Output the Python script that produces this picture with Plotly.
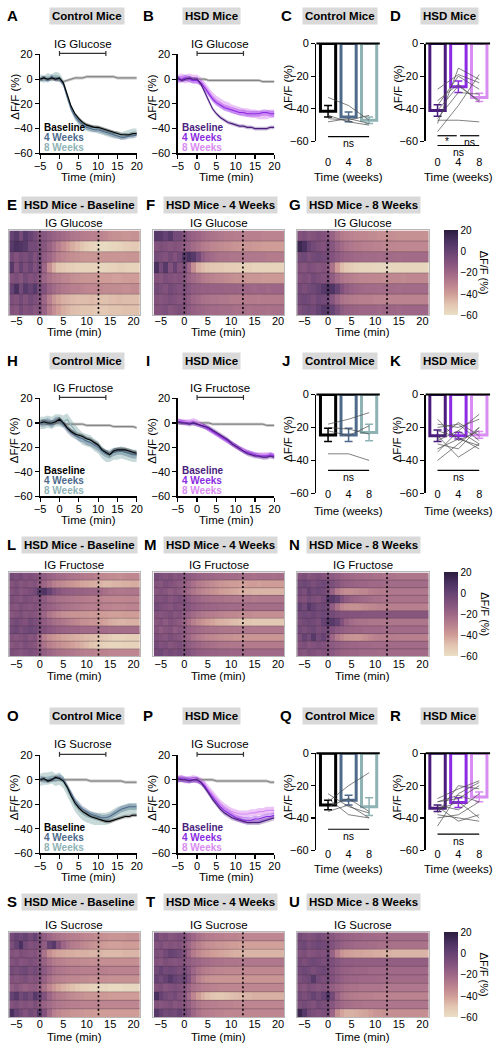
import plotly.graph_objects as go

W, H = 499, 1050
FONT = "Liberation Sans, Arial, Helvetica, sans-serif"

# ------------------------------------------------------------------ data
T_LINE = list(range(-5, 21))          # minutes (line plots)
T_HEAT = list(range(-6, 22))          # minutes (heat-map columns)
IG_PERIOD = [0, 12]                   # gavage bracket
HEAT_MARKS = [0, 12.5]                # dotted lines on heat maps
WEEK_TICKS = ["0", "4", "8"]
GROUP_NAMES = ["Baseline", "4 Weeks", "8 Weeks"]
CTRL_COLORS = ["#000000", "#4e6a8b", "#8fb3b4"]
HSD_COLORS = ["#4a1c7e", "#8b2be3", "#d98cf2"]
SALINE_COLOR = "#7d7d7d"
LEGEND_Y = [-39, -47, -55]
HEAT_SCALE = [[0.0, "#ebdfc6"], [0.125, "#e2c5b1"], [0.25, "#cf9c97"], [0.375, "#b8808e"],
              [0.5, "#9d6686"], [0.625, "#82527d"], [0.75, "#664373"], [0.875, "#4a3160"],
              [1.0, "#2b1c3e"]]

# --- glucose line traces
glu_ctrl_base = [0, 1, 0, 1, 0, 1, -3, -13, -22, -28, -32, -35, -37, -38, -39, -39, -40, -41, -42, -43, -44, -45, -45, -45, -44, -44]
glu_ctrl_4w = [0, 1, -1, 2, 0, 0, -4, -15, -24, -30, -34, -37, -39, -40, -41, -41, -42, -43, -44, -45, -46, -47, -47, -46, -46, -45]
glu_ctrl_8w = [1, 0, 2, 1, 3, 2, -3, -13, -23, -30, -34, -37, -39, -40, -40, -41, -42, -43, -44, -45, -45, -46, -45, -44, -43, -43]
glu_ctrl_sal = [0, 0, 0, 0, 0, -1, -2, -1, 0, 1, 1, 1, 2, 2, 2, 2, 2, 2, 2, 2, 1, 1, 1, 1, 1, 1]
glu_ctrl_sem = [1.5, 2.0, 3.0]
glu_hsd_base = [1, -1, 0, 1, 0, 0, -4, -11, -18, -24, -28, -31, -33, -35, -36, -37, -38, -38, -39, -39, -40, -40, -40, -40, -39, -39]
glu_hsd_4w = [0, 0, 1, 0, -1, -1, -3, -7, -12, -16, -19, -21, -23, -24, -25, -26, -27, -27, -28, -28, -28, -28, -27, -27, -28, -28]
glu_hsd_8w = [0, 1, 0, 1, 0, 0, -2, -6, -10, -14, -17, -19, -21, -22, -24, -25, -26, -27, -27, -28, -28, -29, -29, -29, -28, -28]
glu_hsd_sal = [0, 0, 0, 0, 0, 0, 0, 0, -1, -1, -1, -1, -1, -1, -1, -1, -1, -1, -1, -1, -1, -1, -2, -2, -2, -2]
glu_hsd_sem = [1.5, 2.5, 3.5]
# --- fructose line traces
fru_ctrl_base = [0, 1, 0, 0, 1, 3, 0, -4, -7, -9, -10, -11, -13, -14, -16, -18, -22, -24, -26, -23, -22, -22, -22, -23, -24, -25]
fru_ctrl_4w = [0, 0, 1, -1, 2, 2, -1, -5, -8, -10, -12, -13, -15, -16, -18, -20, -23, -25, -26, -24, -23, -23, -24, -25, -26, -26]
fru_ctrl_8w = [0, 0, 1, 0, 2, 2, 1, 3, -2, -6, -10, -13, -14, -15, -18, -20, -24, -27, -27, -25, -25, -24, -25, -26, -27, -27]
fru_ctrl_sal = [0, 0, 0, 0, 0, 0, -1, -1, -1, -1, -1, -1, -2, -2, -2, -2, -2, -2, -2, -3, -3, -3, -3, -3, -3, -4]
fru_ctrl_sem = [2.0, 3.0, 5.0]
fru_hsd_base = [1, 0, 0, -1, 0, -1, -2, -3, -4, -6, -8, -10, -12, -14, -17, -19, -21, -23, -25, -26, -27, -27, -28, -28, -27, -28]
fru_hsd_4w = [1, 1, 0, 0, 0, -1, -2, -3, -5, -7, -9, -11, -13, -15, -17, -19, -21, -23, -24, -25, -26, -27, -27, -27, -26, -27]
fru_hsd_8w = [2, 1, 1, 1, 2, 1, -1, -3, -5, -7, -9, -11, -13, -15, -17, -19, -21, -22, -24, -25, -26, -26, -26, -26, -26, -27]
fru_hsd_sal = [0, 0, 0, 0, 0, 0, 0, 0, 0, -1, -1, -1, -1, -1, -1, -1, -1, -1, -1, -1, -1, -1, -1, -2, -2, -2]
fru_hsd_sem = [2.0, 2.0, 2.0]
# --- sucrose line traces
suc_ctrl_base = [0, 1, -1, 0, 2, 1, -1, -6, -13, -19, -23, -26, -28, -30, -31, -32, -33, -34, -34, -33, -32, -31, -30, -30, -29, -29]
suc_ctrl_4w = [1, 0, 0, 1, 1, 2, 0, -5, -11, -17, -21, -24, -26, -28, -29, -30, -31, -31, -30, -28, -26, -24, -23, -22, -22, -22]
suc_ctrl_8w = [0, 1, 1, 2, 0, 1, -2, -8, -15, -21, -25, -28, -30, -31, -32, -32, -32, -32, -31, -29, -27, -26, -25, -24, -24, -24]
suc_ctrl_sal = [0, 0, 0, 0, 0, 0, 0, 0, 0, 0, 0, 0, 0, -1, -1, -1, -1, -1, -1, -1, -1, -1, -2, -2, -2, -2]
suc_ctrl_sem = [1.5, 2.5, 5.0]
suc_hsd_base = [1, 0, 0, -1, 0, 0, -2, -6, -11, -16, -20, -24, -27, -29, -31, -32, -33, -34, -35, -35, -35, -35, -34, -33, -32, -31]
suc_hsd_4w = [0, 1, 0, 0, 0, 0, -2, -5, -10, -14, -18, -22, -25, -27, -29, -31, -32, -33, -33, -33, -32, -32, -31, -30, -30, -29]
suc_hsd_8w = [1, 1, 0, 0, 1, 0, -1, -4, -8, -12, -16, -19, -22, -24, -26, -27, -28, -28, -28, -27, -27, -26, -26, -25, -25, -25]
suc_hsd_sal = [0, 0, 0, 0, 0, 0, 0, 0, 0, 0, -1, -1, -1, -1, -1, -1, -1, -1, -1, -1, -1, -1, -1, -1, -2, -2]
suc_hsd_sem = [2.0, 2.5, 3.0]
SALINE_SEM = 1.2

# --- bar panels (means, error, individual mice, significance)
glu_ctrl_bar = [-41.5, -45, -47]
glu_ctrl_err = [3.5, 3, 2]
glu_ctrl_mice = [[-33, -38, -47], [-44, -48, -50], [-46, -47, -44], [-48, -46, -49]]
glu_ctrl_sig = [(0, 2, -57, "ns")]
glu_hsd_bar = [-41, -26.5, -33]
glu_hsd_err = [3.5, 3.5, 2.5]
glu_hsd_mice = [[-49, -15, -22], [-28, -19, -24], [-38, -20, -28], [-54, -38, -19],
                [-46, -30, -31], [-35, -25, -36], [-47, -47, -48], [-41, -26, -35]]
glu_hsd_sig = [(0, 0.92, -56.5, "*"), (1.08, 2, -56.5, "ns"), (0, 2, -62.5, "ns")]
fru_ctrl_bar = [-24.5, -24.5, -23]
fru_ctrl_err = [4, 4, 5]
fru_ctrl_mice = [[-18, -15, -11], [-22, -25, -19], [-20, -21, -24], [-36, -36, -40]]
fru_ctrl_sig = [(0, 2, -46, "ns")]
fru_hsd_bar = [-25, -25, -24.5]
fru_hsd_err = [3.5, 2, 2]
fru_hsd_mice = [[-15, -28, -22], [-18, -20, -15], [-20, -18, -28], [-25, -38, -30], [-28, -22, -12],
                [-30, -33, -20], [-33, -27, -31], [-35, -22, -30], [-40, -30, -20], [-22, -26, -33],
                [-27, -17, -25]]
fru_hsd_sig = [(0, 2, -46, "ns")]
suc_ctrl_bar = [-32, -29, -33]
suc_ctrl_err = [3, 3, 5.5]
suc_ctrl_mice = [[-30, -20, -12], [-36, -32, -40], [-28, -38, -40], [-33, -28, -36], [-25, -33, -37]]
suc_ctrl_sig = [(0, 2, -47, "ns")]
suc_hsd_bar = [-34, -30.5, -27]
suc_hsd_err = [2, 3, 3]
suc_hsd_mice = [[-45, -25, -18], [-38, -40, -42], [-30, -28, -20], [-32, -35, -25], [-28, -22, -17],
                [-35, -30, -40], [-40, -38, -30], [-33, -42, -38], [-30, -26, -30], [-37, -20, -22]]
suc_hsd_sig = [(0, 2, -50, "ns")]

# --- heat maps (rows = mice, columns = T_HEAT)
glu_heat_base = [
    [0, 5, -5, 5, 0, -5, -10, -12, -15, -18, -20, -22, -24, -26, -27, -28, -29, -30, -30, -31, -33, -35, -36, -36, -37, -37, -36, -36],
    [5, 10, 8, 5, -5, -5, -8, -12, -18, -24, -30, -35, -40, -44, -47, -50, -53, -55, -57, -58, -58, -57, -56, -55, -54, -53, -52, -52],
    [-5, -10, -5, -8, -3, -10, -5, -15, -20, -25, -30, -32, -34, -35, -36, -37, -38, -38, -38, -38, -37, -37, -38, -38, -38, -37, -37, -37],
    [5, -10, 0, -8, -2, -10, -5, -20, -35, -45, -50, -52, -53, -54, -55, -55, -55, -55, -55, -56, -56, -55, -55, -54, -54, -55, -55, -55],
    [-10, -8, -12, -5, -10, -8, -12, -20, -25, -28, -30, -32, -33, -35, -36, -37, -38, -38, -38, -40, -40, -40, -41, -41, -40, -40, -40, -40],
    [0, 10, -5, 5, 0, 5, -5, -10, -18, -22, -25, -27, -28, -30, -30, -31, -32, -33, -33, -33, -34, -34, -34, -34, -35, -35, -34, -34],
    [-8, -10, -5, -10, -5, -8, -10, -20, -30, -38, -42, -45, -46, -47, -48, -48, -48, -47, -48, -49, -49, -48, -48, -47, -48, -48, -48, -48],
    [-10, -12, -5, -10, -8, -12, -10, -18, -28, -35, -40, -44, -46, -48, -49, -50, -50, -50, -51, -51, -51, -50, -50, -50, -49, -49, -49, -49],
]
glu_heat_4w = [
    [5, 5, 0, 5, -5, -5, -10, -15, -18, -20, -22, -24, -25, -26, -27, -28, -28, -29, -29, -30, -30, -30, -30, -31, -31, -31, -31, -31],
    [-10, -8, -10, -12, -10, -12, -15, -18, -22, -25, -28, -30, -32, -33, -34, -35, -36, -37, -38, -38, -38, -39, -39, -40, -40, -40, -40, -40],
    [-5, -8, -10, -5, -10, -5, 5, 10, 5, -5, -15, -20, -22, -24, -25, -25, -26, -26, -26, -27, -27, -27, -27, -27, -28, -28, -28, -28],
    [10, -5, 5, -10, 0, -10, -8, -20, -35, -45, -48, -50, -51, -52, -52, -53, -53, -53, -54, -54, -54, -55, -55, -55, -55, -55, -55, -55],
    [-10, -12, -8, -10, -12, -10, -12, -18, -22, -25, -28, -30, -31, -32, -33, -34, -35, -36, -36, -37, -38, -38, -38, -39, -39, -39, -39, -39],
    [-5, -8, -10, -5, -8, -10, -8, -12, -15, -16, -17, -17, -18, -18, -18, -19, -19, -19, -20, -20, -20, -21, -20, -20, -21, -20, -20, -20],
    [-10, -12, -10, -8, -10, -12, -10, -15, -20, -22, -24, -25, -26, -26, -27, -27, -28, -28, -28, -29, -28, -28, -29, -28, -28, -28, -28, -28],
    [-10, -10, -8, -12, -10, -8, -10, -14, -17, -19, -20, -21, -22, -22, -23, -23, -23, -24, -24, -24, -25, -24, -24, -24, -25, -24, -24, -24],
]
glu_heat_8w = [
    [-10, -8, -12, -10, -8, -10, -12, -18, -24, -28, -30, -31, -32, -33, -33, -34, -34, -35, -35, -35, -35, -36, -36, -36, -36, -36, -36, -36],
    [15, 10, 0, -5, -8, -10, -5, -12, -18, -22, -25, -27, -28, -29, -30, -30, -31, -31, -32, -32, -32, -33, -33, -33, -33, -33, -33, -33],
    [-5, -3, -8, -5, -3, -5, -5, -10, -14, -17, -19, -20, -21, -21, -22, -22, -22, -23, -22, -22, -22, -23, -22, -22, -22, -22, -22, -22],
    [-10, -12, -8, -10, -12, -10, -12, -25, -40, -48, -52, -54, -55, -56, -56, -56, -57, -57, -57, -57, -56, -56, -56, -56, -56, -56, -56, -56],
    [-10, -8, -10, -5, -8, -10, -8, -15, -22, -26, -28, -30, -31, -32, -32, -33, -33, -33, -34, -33, -33, -33, -34, -33, -33, -33, -33, -33],
    [-5, -8, -5, -3, 0, 5, 10, 8, 0, -10, -15, -18, -20, -21, -22, -22, -22, -23, -22, -22, -22, -23, -22, -22, -22, -22, -22, -22],
    [-5, -3, -5, -8, -3, -5, -3, -12, -20, -25, -27, -28, -29, -30, -30, -30, -31, -31, -31, -31, -31, -31, -31, -31, -31, -31, -31, -31],
    [-8, -5, -3, -5, 0, 5, 5, 0, -8, -14, -17, -18, -19, -20, -20, -20, -20, -21, -20, -20, -20, -21, -20, -20, -20, -20, -20, -20],
]
fru_heat_base = [
    [-5, -8, -5, -10, -8, -10, -12, -15, -18, -20, -22, -22, -24, -25, -26, -27, -28, -28, -30, -32, -33, -34, -34, -35, -34, -33, -33, -33],
    [-10, -8, -12, -10, -12, -10, -15, -20, -25, -30, -32, -34, -36, -38, -40, -42, -43, -44, -45, -46, -47, -47, -46, -46, -45, -45, -44, -44],
    [-10, -8, -12, -10, -8, -5, 5, 8, 0, -8, -12, -15, -16, -17, -18, -18, -19, -20, -20, -22, -24, -26, -26, -27, -27, -26, -26, -26],
    [-8, -10, -12, -8, -10, -12, -10, -15, -20, -22, -24, -25, -26, -27, -28, -28, -29, -30, -30, -31, -32, -32, -33, -33, -32, -32, -32, -32],
    [-10, -12, -8, -10, -12, -10, -12, -15, -18, -20, -22, -24, -25, -26, -27, -28, -29, -30, -30, -30, -31, -31, -32, -32, -32, -31, -31, -31],
    [-12, -10, -8, -12, -10, -12, -14, -20, -26, -30, -33, -35, -36, -37, -37, -38, -38, -39, -39, -40, -40, -41, -41, -41, -40, -40, -40, -40],
    [-8, -5, -8, -10, -5, -8, -10, -15, -20, -23, -25, -27, -29, -31, -33, -35, -36, -37, -38, -40, -42, -44, -45, -46, -46, -45, -45, -45],
    [-5, -3, -8, -5, -3, -5, -8, -10, -13, -15, -17, -18, -19, -20, -20, -21, -21, -22, -22, -22, -22, -23, -23, -23, -23, -23, -23, -23],
    [-10, -12, -10, -8, -12, -10, -20, -30, -35, -38, -40, -42, -43, -44, -45, -46, -47, -48, -49, -50, -52, -54, -55, -55, -55, -54, -54, -54],
    [-12, -10, -12, -8, -10, -12, -18, -25, -30, -33, -35, -37, -39, -41, -43, -45, -47, -50, -52, -54, -55, -56, -56, -56, -55, -55, -55, -55],
    [-8, -10, -12, -10, -8, -10, -12, -16, -20, -22, -24, -25, -26, -27, -28, -29, -30, -30, -31, -31, -31, -32, -32, -32, -32, -32, -32, -32],
]
fru_heat_4w = [
    [-5, -8, -10, -8, -12, -10, -12, -14, -16, -18, -19, -20, -20, -21, -21, -22, -22, -22, -23, -23, -23, -24, -23, -23, -23, -24, -23, -23],
    [-10, -12, -8, -10, -12, -14, -16, -20, -24, -28, -30, -32, -34, -36, -38, -39, -40, -40, -41, -41, -40, -40, -41, -40, -40, -40, -40, -40],
    [-12, -10, -12, -15, -12, -14, -18, -22, -26, -30, -32, -34, -36, -38, -40, -41, -42, -43, -44, -45, -45, -46, -46, -46, -46, -46, -46, -46],
    [-8, -10, -8, -12, -10, -8, -10, -14, -18, -20, -22, -23, -24, -25, -25, -26, -26, -27, -27, -27, -27, -28, -27, -27, -27, -27, -27, -27],
    [-5, -8, -10, -12, -8, -10, -10, -12, -15, -17, -18, -19, -20, -20, -21, -21, -22, -22, -22, -23, -23, -23, -23, -23, -23, -23, -23, -23],
    [-10, -12, -10, -8, -12, -10, -14, -18, -22, -25, -27, -28, -29, -30, -31, -32, -33, -33, -34, -34, -34, -35, -35, -35, -35, -35, -35, -35],
    [-12, -10, -14, -10, -12, -14, -18, -24, -30, -34, -37, -40, -42, -44, -45, -46, -47, -48, -49, -50, -50, -51, -51, -51, -51, -51, -51, -51],
    [-10, -15, -12, -10, -15, -12, -14, -18, -20, -22, -23, -24, -25, -25, -26, -26, -26, -27, -27, -27, -27, -27, -27, -27, -27, -27, -27, -27],
    [-8, -10, -12, -8, -10, -12, -16, -20, -25, -28, -30, -32, -33, -34, -35, -36, -36, -37, -37, -38, -38, -38, -38, -38, -38, -38, -38, -38],
    [-5, -10, -8, -12, -10, -8, -12, -15, -18, -20, -22, -23, -24, -25, -26, -26, -27, -27, -27, -28, -28, -28, -28, -28, -28, -28, -28, -28],
    [-5, -3, -8, -5, -8, -5, -8, -10, -13, -15, -16, -17, -18, -18, -19, -19, -20, -20, -20, -21, -21, -21, -21, -21, -21, -21, -21, -21],
]
fru_heat_8w = [
    [-10, -8, -12, -10, -8, -10, -12, -14, -16, -18, -20, -21, -22, -22, -23, -23, -24, -24, -25, -25, -25, -26, -26, -26, -26, -26, -26, -26],
    [-5, -3, -5, -8, -5, -3, -5, -8, -12, -15, -17, -18, -19, -20, -20, -21, -21, -21, -22, -22, -22, -22, -22, -22, -22, -22, -22, -22],
    [-5, -8, 0, -5, -3, -5, -8, -18, -28, -33, -35, -35, -34, -33, -32, -30, -29, -28, -28, -27, -27, -27, -27, -27, -27, -27, -27, -27],
    [-8, -10, -5, -8, -10, -5, 5, 5, 0, -10, -15, -18, -20, -21, -22, -23, -24, -24, -25, -25, -25, -25, -25, -25, -25, -25, -25, -25],
    [0, -5, 5, 0, -5, -3, -5, -15, -25, -32, -35, -36, -36, -35, -34, -33, -32, -31, -31, -30, -30, -30, -30, -30, -30, -30, -30, -30],
    [-5, -3, -5, -2, -5, -3, -2, -5, -8, -10, -10, -11, -11, -11, -12, -12, -12, -12, -12, -12, -12, -12, -12, -12, -12, -12, -12, -12],
    [-8, -5, -3, -5, -8, 0, 5, 5, 0, -10, -18, -22, -24, -25, -25, -26, -26, -26, -26, -26, -26, -26, -26, -26, -26, -26, -26, -26],
    [-5, -8, -5, -3, -8, -5, -5, -10, -14, -16, -18, -19, -20, -20, -21, -21, -21, -21, -22, -22, -22, -22, -22, -22, -22, -22, -22, -22],
    [-8, 0, -5, 5, -5, 0, -8, -20, -28, -33, -36, -37, -38, -37, -35, -33, -31, -30, -30, -29, -29, -30, -30, -30, -30, -30, -30, -30],
    [-10, -8, -12, -10, -8, -10, -12, -14, -16, -18, -19, -20, -20, -21, -21, -21, -22, -22, -22, -22, -22, -22, -22, -22, -22, -22, -22, -22],
    [-10, -12, -8, -10, -12, -10, -10, -13, -16, -18, -19, -20, -20, -21, -21, -21, -21, -22, -22, -22, -22, -22, -22, -22, -22, -22, -22, -22],
]
suc_heat_base = [
    [-5, 0, -3, 0, -5, 0, -8, -15, -20, -23, -25, -27, -28, -29, -30, -31, -32, -33, -34, -35, -36, -37, -37, -37, -37, -36, -36, -36],
    [-8, 0, 10, -5, -10, -8, -10, -15, 0, 5, -10, -20, -25, -28, -30, -32, -34, -36, -38, -39, -40, -41, -41, -41, -40, -40, -40, -40],
    [-10, -12, -8, -10, -12, -10, -14, -25, -35, -40, -42, -43, -44, -44, -45, -45, -45, -46, -46, -46, -47, -47, -47, -47, -46, -46, -46, -46],
    [-10, -8, -12, -10, -8, -10, -12, -18, -24, -28, -30, -31, -32, -33, -33, -34, -34, -35, -35, -35, -35, -35, -35, -35, -35, -35, -35, -35],
    [-5, -8, -5, -3, -8, -5, -8, -14, -20, -24, -26, -27, -28, -29, -29, -30, -30, -30, -30, -30, -30, -31, -31, -31, -31, -31, -31, -31],
    [-10, -12, -10, -8, -12, -10, -12, -18, -24, -28, -30, -31, -32, -33, -33, -34, -34, -35, -35, -35, -35, -36, -36, -36, -36, -36, -36, -36],
    [-15, -12, -15, -18, -15, -14, -18, -25, -32, -38, -42, -45, -47, -49, -51, -53, -54, -55, -56, -57, -57, -58, -58, -58, -57, -57, -57, -57],
    [0, 5, -5, 0, -5, 5, 0, -10, -20, -25, -28, -30, -32, -34, -35, -36, -37, -38, -38, -39, -39, -40, -40, -40, -40, -40, -40, -40],
    [-10, -8, -12, -10, -12, -8, -12, -18, -22, -25, -27, -28, -29, -30, -30, -31, -31, -31, -31, -32, -32, -32, -32, -32, -32, -32, -32, -32],
    [10, 0, -5, -10, -5, -8, 5, -10, -22, -30, -33, -35, -36, -37, -38, -38, -39, -39, -40, -40, -40, -40, -40, -40, -40, -40, -40, -40],
]
suc_heat_4w = [
    [-5, -10, -8, -12, -10, -8, -10, -15, -20, -24, -26, -28, -29, -30, -30, -31, -31, -31, -32, -32, -32, -32, -32, -32, -32, -32, -32, -32],
    [-10, -8, -12, -10, -12, -10, -14, -20, -26, -30, -33, -35, -36, -37, -38, -39, -40, -40, -41, -41, -41, -41, -41, -41, -41, -41, -41, -41],
    [-8, -10, -5, 0, -2, -5, -10, -20, -28, -33, -36, -38, -40, -41, -42, -43, -44, -45, -45, -46, -46, -46, -46, -46, -46, -46, -46, -46],
    [-10, -12, -8, -10, -12, -10, -12, -15, -18, -20, -22, -23, -24, -25, -25, -26, -26, -26, -27, -27, -27, -27, -27, -27, -27, -27, -27, -27],
    [-5, 0, -5, -3, -5, -8, -5, -12, -20, -25, -28, -30, -31, -32, -32, -33, -33, -33, -33, -33, -33, -33, -33, -33, -33, -33, -33, -33],
    [0, -5, 0, 5, 0, -3, 0, -10, -22, -30, -34, -36, -37, -38, -38, -38, -38, -38, -38, -38, -38, -38, -38, -38, -38, -38, -38, -38],
    [-10, -8, -12, -10, -8, -10, -12, -18, -24, -27, -29, -30, -31, -31, -32, -32, -32, -32, -32, -32, -32, -32, -32, -32, -32, -32, -32, -32],
    [10, 0, -5, -8, -5, -10, -12, -22, -32, -40, -45, -48, -50, -51, -51, -50, -49, -48, -47, -46, -46, -45, -45, -45, -45, -45, -45, -45],
    [-10, -12, -10, -8, -12, -10, -12, -16, -22, -26, -28, -29, -30, -30, -31, -31, -31, -32, -32, -32, -32, -32, -32, -32, -32, -32, -32, -32],
    [5, 0, -5, -3, -5, 0, -5, -12, -20, -25, -28, -29, -30, -31, -31, -32, -32, -32, -32, -32, -32, -32, -32, -32, -32, -32, -32, -32],
]
suc_heat_8w = [
    [-5, -8, -10, -8, -5, -8, -10, -12, -15, -17, -18, -19, -20, -20, -21, -21, -21, -22, -22, -22, -22, -22, -22, -22, -22, -22, -22, -22],
    [-5, -3, -8, -5, -3, -5, -5, -10, -14, -17, -19, -20, -21, -22, -22, -23, -23, -24, -24, -24, -25, -25, -25, -25, -25, -25, -25, -25],
    [-10, -8, -12, -10, -8, -10, -5, -18, -30, -37, -40, -41, -42, -42, -43, -43, -44, -44, -45, -45, -46, -46, -46, -46, -46, -46, -46, -46],
    [-5, -8, -5, -3, -5, -8, -5, -8, -12, -14, -15, -15, -16, -16, -16, -16, -16, -16, -16, -16, -16, -16, -16, -16, -16, -16, -16, -16],
    [-5, -3, -5, -8, -5, -3, -5, -10, -14, -17, -18, -19, -20, -20, -20, -21, -21, -21, -21, -21, -21, -21, -21, -21, -21, -21, -21, -21],
    [-8, -5, -3, 5, -5, -8, -5, -10, -14, -17, -19, -20, -20, -21, -21, -21, -21, -22, -22, -22, -22, -22, -22, -22, -22, -22, -22, -22],
    [-10, -12, -8, -10, -12, -10, -12, -16, -20, -22, -24, -25, -25, -26, -26, -26, -26, -26, -27, -27, -27, -27, -27, -27, -27, -27, -27, -27],
    [-5, -8, -5, 0, -5, 0, 8, -5, -18, -24, -27, -28, -29, -30, -30, -30, -31, -31, -31, -31, -31, -31, -31, -31, -31, -31, -31, -31],
    [-8, -5, -8, -10, -5, -8, -8, -12, -18, -21, -23, -24, -25, -25, -26, -26, -26, -26, -26, -26, -26, -26, -26, -26, -26, -26, -26, -26],
    [15, 5, -5, -8, -10, -8, -5, -20, -35, -42, -45, -45, -44, -43, -42, -40, -38, -37, -36, -35, -35, -35, -35, -35, -35, -35, -35, -35],
]

for _hm in (glu_heat_base, glu_heat_4w, glu_heat_8w, fru_heat_base, fru_heat_4w, fru_heat_8w,
            suc_heat_base, suc_heat_4w, suc_heat_8w):
    for _r in _hm:
        assert len(_r) == len(T_HEAT), len(_r)

# ------------------------------------------------------------------ helpers
fig = go.Figure()
annotations, shapes = [], []
_axn = [0]


def PX(p):
    return p / W


def PY(p):
    return 1 - p / H


class Box:
    def __init__(self, x0, x1, y0, y1, xr, yr):
        self.x0, self.x1, self.y0, self.y1, self.xr, self.yr = x0, x1, y0, y1, xr, yr

    def fx(self, v):
        return PX(self.x0 + (v - self.xr[0]) / (self.xr[1] - self.xr[0]) * (self.x1 - self.x0))

    def fy(self, v):
        return PY(self.y1 - (v - self.yr[0]) / (self.yr[1] - self.yr[0]) * (self.y1 - self.y0))

    def xdom(self):
        return [PX(self.x0), PX(self.x1)]

    def ydom(self):
        return [PY(self.y1), PY(self.y0)]


def new_axes():
    _axn[0] += 1
    s = "" if _axn[0] == 1 else str(_axn[0])
    return "x" + s, "y" + s, "xaxis" + s, "yaxis" + s


def ann(x, y, text, size=11, color="black", xanchor="center", yanchor="middle", angle=0, **kw):
    d = dict(x=x, y=y, xref="paper", yref="paper", text=text, showarrow=False,
             font=dict(size=size, color=color, family=FONT), xanchor=xanchor,
             yanchor=yanchor, textangle=angle, borderpad=0)
    d.update(kw)
    annotations.append(d)


def seg(x0, y0, x1, y1, color="black", width=1.2):
    shapes.append(dict(type="line", xref="paper", yref="paper", x0=x0, y0=y0, x1=x1, y1=y1,
                       line=dict(color=color, width=width)))


def rgba(hexc, a):
    h = hexc.lstrip("#")
    return "rgba(%d,%d,%d,%.2f)" % (int(h[0:2], 16), int(h[2:4], 16), int(h[4:6], 16), a)


TICKFONT = dict(size=11, family=FONT, color="black")
AX = dict(showline=True, linecolor="black", linewidth=1.4, ticks="outside", ticklen=4,
          tickwidth=1.2, tickcolor="black", showgrid=False, zeroline=False,
          tickfont=TICKFONT, fixedrange=True)


def line_panel(box, means, sems, colors, sal, sugar):
    xa, ya, xk, yk = new_axes()
    t = T_LINE

    def band(m, s, fill):
        up = [v + s for v in m]
        lo = [v - s for v in m]
        fig.add_trace(go.Scatter(x=t + t[::-1], y=up + lo[::-1], fill="toself", fillcolor=fill,
                                 line=dict(width=0), mode="lines", hoverinfo="skip",
                                 xaxis=xa, yaxis=ya))

    band(sal, SALINE_SEM, "rgba(150,150,150,0.55)")
    alphas = [0.3, 0.4, 0.5]
    for i in (2, 1, 0):
        band(means[i], sems[i], rgba(colors[i], alphas[i]))
    fig.add_trace(go.Scatter(x=t, y=sal, mode="lines", line=dict(color=SALINE_COLOR, width=1),
                             xaxis=xa, yaxis=ya))
    for i in (2, 1, 0):
        fig.add_trace(go.Scatter(x=t, y=means[i], mode="lines",
                                 line=dict(color=colors[i], width=1.1), xaxis=xa, yaxis=ya))
    fig.update_layout(**{
        xk: dict(domain=box.xdom(), range=box.xr, anchor=ya, tickvals=[-5, 0, 5, 10, 15, 20],
                 ticklabelstandoff=-2, **AX),
        yk: dict(domain=box.ydom(), range=box.yr, anchor=xa, tickvals=[-60, -40, -20, 0, 20], **AX),
    })
    # IG bracket + label
    yb = PY(box.y0 - 1)
    xa0, xa1 = box.fx(IG_PERIOD[0]), box.fx(IG_PERIOD[1])
    seg(xa0, yb, xa1, yb, "#333333", 1.2)
    seg(xa0, yb - 2.5 / H, xa0, yb + 2.5 / H, "#333333", 1.2)
    seg(xa1, yb - 2.5 / H, xa1, yb + 2.5 / H, "#333333", 1.2)
    ann((xa0 + xa1) / 2, PY(box.y0 - 11), sugar, size=11.5)
    for i in range(3):
        ann(box.fx(-4.2), box.fy(LEGEND_Y[i]), "<b>%s</b>" % GROUP_NAMES[i], size=10,
            color=colors[i], xanchor="left")
    ann(PX(box.x0 - 26), PY((box.y0 + box.y1) / 2 - 7), "ΔF/F (%)", size=11.5, angle=-90)
    ann((box.fx(-5) + box.fx(20)) / 2, PY(box.y1 + 24), "Time (min)", size=11.5)


def bar_panel(box, means, errs, mice, colors, sig, standoff, title_off):
    xa, ya, xk, yk = new_axes()
    for i in range(3):
        fig.add_trace(go.Bar(x=[i], y=[means[i]], width=0.74,
                             marker=dict(color="rgba(255,255,255,0)", line=dict(color=colors[i], width=3)),
                             error_y=dict(type="data", array=[errs[i]], color=colors[i], thickness=1.5, width=4),
                             xaxis=xa, yaxis=ya, hoverinfo="skip"))
    xs, ys = [], []
    for row in mice:
        xs += [0, 1, 2, None]
        ys += list(row) + [None]
    fig.add_trace(go.Scatter(x=xs, y=ys, mode="lines", line=dict(color="#4a4a4a", width=0.7),
                             xaxis=xa, yaxis=ya, hoverinfo="skip"))
    xax = dict(AX)
    xax.update(showline=False, ticks="")
    fig.update_layout(**{
        xk: dict(domain=box.xdom(), range=box.xr, anchor=ya, tickvals=[0, 1, 2], ticktext=WEEK_TICKS,
                 ticklabelstandoff=standoff, **xax),
        yk: dict(domain=box.ydom(), range=box.yr, anchor=xa, tickvals=[-60, -40, -20, 0], **AX),
    })
    seg(box.fx(box.xr[0]), box.fy(0), box.fx(box.xr[1]), box.fy(0), "black", 2)
    for a, b, lev, lab in sig:
        seg(box.fx(a), box.fy(lev), box.fx(b), box.fy(lev), "black", 1.2)
        ann((box.fx(a) + box.fx(b)) / 2, box.fy(lev) + 0.5 / H, lab, size=10.5 if lab == "ns" else 10,
            yanchor="top")
    ann(PX(box.x0 - 29), PY((box.y0 + box.y1) / 2 - 5), "ΔF/F (%)", size=11.5, angle=-90)
    ann(box.fx(1), PY(box.y1 + title_off), "Time (weeks)", size=11.5)


def heat_panel(box, z, sugar, standoff, title_off, colorbar=False):
    xa, ya, xk, yk = new_axes()
    n = len(z)
    hm = go.Heatmap(z=z, x=T_HEAT, y=list(range(n)), colorscale=HEAT_SCALE, zmin=-60, zmax=20,
                    showscale=colorbar, xaxis=xa, yaxis=ya, hoverinfo="skip")
    if colorbar:
        hm.colorbar = dict(x=PX(449), xanchor="left", y=PY(box.y1), yanchor="bottom",
                           len=(box.y1 - box.y0) / H, lenmode="fraction", thickness=14,
                           thicknessmode="pixels", outlinewidth=0, tickvals=[-60, -40, -20, 0, 20],
                           ticks="", tickfont=dict(size=10, family=FONT, color="black"), xpad=0, ypad=0)
    fig.add_trace(hm)
    xs, ys = [], []
    for i in range(n - 1):
        xs += [T_HEAT[0] - 0.5, T_HEAT[-1] + 0.5, None]
        ys += [i + 0.5, i + 0.5, None]
    fig.add_trace(go.Scatter(x=xs, y=ys, mode="lines", line=dict(color="rgba(60,40,60,0.45)", width=0.7),
                             xaxis=xa, yaxis=ya, hoverinfo="skip"))
    for m in HEAT_MARKS:
        fig.add_trace(go.Scatter(x=[m, m], y=[-0.5, n - 0.5], mode="lines",
                                 line=dict(color="black", width=1.6, dash="2px,2.5px"),
                                 xaxis=xa, yaxis=ya, hoverinfo="skip"))
    frame = dict(showline=True, mirror=True, linecolor="#b8b8b8", linewidth=1, ticks="",
                 showgrid=False, zeroline=False, fixedrange=True, tickfont=TICKFONT)
    fig.update_layout(**{
        xk: dict(domain=box.xdom(), range=box.xr, anchor=ya, tickvals=[-5, 0, 5, 10, 15, 20],
                 ticklabelstandoff=standoff, **frame),
        yk: dict(domain=box.ydom(), range=[n - 0.5, -0.5], anchor=xa, showticklabels=False, **frame),
    })
    ann((box.fx(-6.6) + box.fx(21.3)) / 2, PY(box.y0 - 0.5), sugar, size=11.5, yanchor="bottom")
    ann((box.fx(-6.6) + box.fx(21.3)) / 2, PY(box.y1 + title_off), "Time (min)", size=11.5)
    if colorbar:
        ann(PX(490), PY((box.y0 + box.y1) / 2), "ΔF/F (%)", size=11, angle=90)


def titles(y, items):
    for letter, lx, bx, txt in items:
        ann(PX(lx), PY(y), "<b>%s</b>" % letter, size=15, xanchor="center")
        ann(PX(bx), PY(y), "<b>%s</b>" % txt, size=11.5, bgcolor="#d9d9d9", borderpad=2)


# ------------------------------------------------------------------ build
LR, LY = [-5, 20], [-60, 20]
BR, BY = [-0.57, 2.52], [-60, 0]
HR = [-6.6, 21.3]

sugars = [
    dict(name="IG Glucose", ctrl=[glu_ctrl_base, glu_ctrl_4w, glu_ctrl_8w], ctrl_sem=glu_ctrl_sem, ctrl_sal=glu_ctrl_sal,
         hsd=[glu_hsd_base, glu_hsd_4w, glu_hsd_8w], hsd_sem=glu_hsd_sem, hsd_sal=glu_hsd_sal,
         cbar=(glu_ctrl_bar, glu_ctrl_err, glu_ctrl_mice, glu_ctrl_sig),
         hbar=(glu_hsd_bar, glu_hsd_err, glu_hsd_mice, glu_hsd_sig),
         heat=[glu_heat_base, glu_heat_4w, glu_heat_8w],
         ly=(49, 149), by=(38, 137), hy=(227, 313), bstand=13, btitle=36, hstand=-5, htitle=17,
         t1=10, t2=201, letters1="ABCD", letters2="EFG"),
    dict(name="IG Fructose", ctrl=[fru_ctrl_base, fru_ctrl_4w, fru_ctrl_8w], ctrl_sem=fru_ctrl_sem, ctrl_sal=fru_ctrl_sal,
         hsd=[fru_hsd_base, fru_hsd_4w, fru_hsd_8w], hsd_sem=fru_hsd_sem, hsd_sal=fru_hsd_sal,
         cbar=(fru_ctrl_bar, fru_ctrl_err, fru_ctrl_mice, fru_ctrl_sig),
         hbar=(fru_hsd_bar, fru_hsd_err, fru_hsd_mice, fru_hsd_sig),
         heat=[fru_heat_base, fru_heat_4w, fru_heat_8w],
         ly=(397, 496), by=(393, 493), hy=(573, 658), bstand=-7, btitle=18, hstand=-3, htitle=20,
         t1=359, t2=545, letters1="HIJK", letters2="LMN"),
    dict(name="IG Sucrose", ctrl=[suc_ctrl_base, suc_ctrl_4w, suc_ctrl_8w], ctrl_sem=suc_ctrl_sem, ctrl_sal=suc_ctrl_sal,
         hsd=[suc_hsd_base, suc_hsd_4w, suc_hsd_8w], hsd_sem=suc_hsd_sem, hsd_sal=suc_hsd_sal,
         cbar=(suc_ctrl_bar, suc_ctrl_err, suc_ctrl_mice, suc_ctrl_sig),
         hbar=(suc_hsd_bar, suc_hsd_err, suc_hsd_mice, suc_hsd_sig),
         heat=[suc_heat_base, suc_heat_4w, suc_heat_8w],
         ly=(758, 857), by=(756, 854), hy=(937, 1023), bstand=-4, btitle=19, hstand=-4, htitle=20,
         t1=718, t2=906, letters1="OPQR", letters2="STU"),
]

for s in sugars:
    ly0, ly1 = s["ly"]
    line_panel(Box(35, 134, ly0, ly1, LR, LY), s["ctrl"], s["ctrl_sem"], CTRL_COLORS, s["ctrl_sal"], s["name"])
    line_panel(Box(176, 275, ly0, ly1, LR, LY), s["hsd"], s["hsd_sem"], HSD_COLORS, s["hsd_sal"], s["name"])
    by0, by1 = s["by"]
    m, e, mi, sg = s["cbar"]
    bar_panel(Box(318, 383, by0, by1, BR, BY), m, e, mi, CTRL_COLORS, sg, s["bstand"], s["btitle"])
    m, e, mi, sg = s["hbar"]
    bar_panel(Box(430, 496, by0, by1, BR, BY), m, e, mi, HSD_COLORS, sg, s["bstand"], s["btitle"])
    hy0, hy1 = s["hy"]
    for j, (hx0, hx1) in enumerate([(3, 137), (151, 285), (298, 433)]):
        heat_panel(Box(hx0, hx1, hy0, hy1, HR, [0, 1]), s["heat"][j], s["name"], s["hstand"], s["htitle"],
                   colorbar=(j == 2))
    L1, L2 = s["letters1"], s["letters2"]
    titles(s["t1"], [(L1[0], 7, 83, "Control Mice"), (L1[1], 146, 211, "HSD Mice"),
                     (L1[2], 287, 342, "Control Mice"), (L1[3], 399, 454, "HSD Mice")])
    titles(s["t2"], [(L2[0], 6, 75, "HSD Mice - Baseline"), (L2[1], 148, 220, "HSD Mice - 4 Weeks"),
                     (L2[2], 296, 366, "HSD Mice - 8 Weeks")])

fig.update_layout(width=W, height=H, margin=dict(l=0, r=0, t=0, b=0), showlegend=False,
                  plot_bgcolor="white", paper_bgcolor="white", barmode="overlay",
                  font=dict(family=FONT, color="black", size=11),
                  annotations=annotations, shapes=shapes)
fig.write_html("out.html", config={"staticPlot": True},
               post_script="document.body.style.margin='0';document.body.style.padding='0';"
                           "document.body.style.overflow='hidden';")
